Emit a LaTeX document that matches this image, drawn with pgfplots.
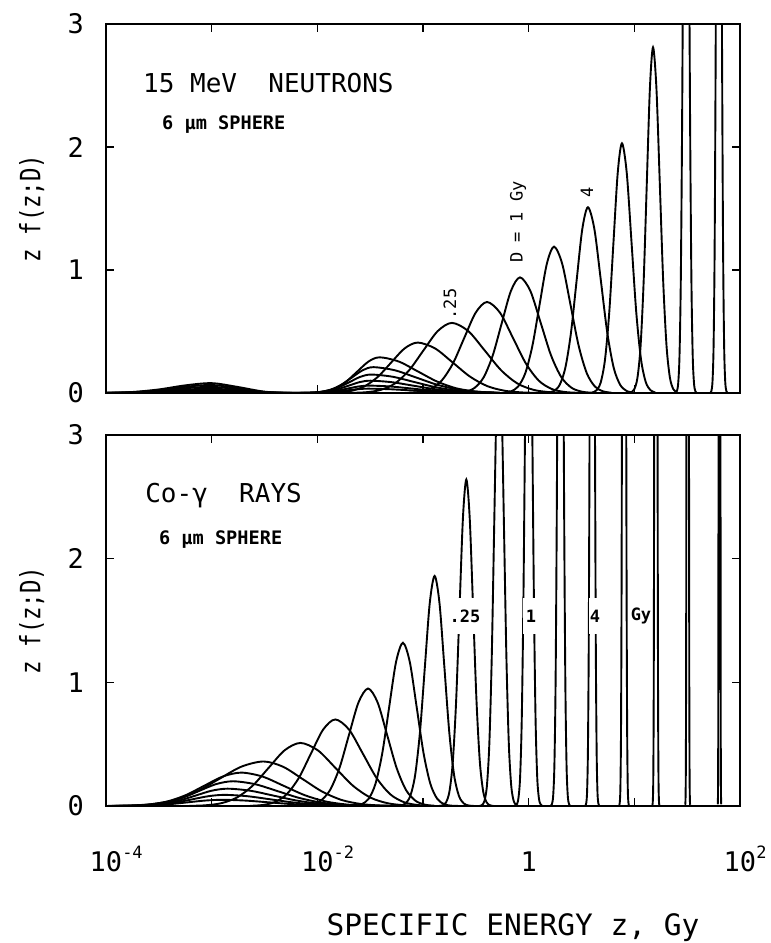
\documentclass[border=0pt]{standalone}
\usepackage{fontspec}
\setmainfont{DejaVu Sans Mono}
\usepackage{graphicx}
\usepackage{pgfplots}
\pgfplotsset{compat=1.18}
\newcommand\fs[1]{\fontsize{#1}{#1}\selectfont}
\newcommand\tl[1]{\makebox[0pt][c]{10\rlap{\raisebox{0.5em}{\fs{17}#1}}}}
\pgfplotsset{
  panel/.style={
    scale only axis, width=634pt, xmin=-4, xmax=2, ymin=0, ymax=3,
    xtick={-4,-3,-2,-1,0,1,2}, ytick={0,1,2,3}, yticklabels={0,1,2,3},
    tick align=inside, major tick length=8pt,
    axis line style={line width=2.2pt},
    every tick/.append style={black, line width=1.6pt},
    tick label style={font=\fs{27}},
    yticklabel style={anchor=east, inner sep=0pt, xshift=-22pt},
    clip mode=individual,
    cycle list={{black}},
    every axis plot post/.append style={black, solid, line width=1.9pt, smooth, mark=none},
  },
}
\begin{document}
\begin{tikzpicture}
\useasboundingbox (0,0) rectangle (771pt,943pt);
% ---------------- top panel: 15 MeV neutrons ----------------
\begin{axis}[panel, at={(106pt,550pt)}, anchor=south west, height=369pt, xticklabels={}]
% D = 1/512
\addplot coordinates {(-4,0.0003)(-3.75,0.0015)(-3.5,0.0054)(-3.25,0.0116)(-3,0.015)(-2.75,0.0091)(-2.5,0.002)(-2.25,0.0002)
(-2.12,0.0004)(-2.02,0.0015)(-1.92,0.0047)(-1.82,0.0114)(-1.72,0.0212)(-1.62,0.0309)(-1.52,0.035)(-1.32,0.0309)(-1.12,0.0212)(-0.92,0.0114)(-0.72,0.0047)(-0.52,0.0015)(-0.32,0.0004)};
% D = 1/256
\addplot coordinates {(-4,0.0004)(-3.75,0.0025)(-3.5,0.009)(-3.25,0.0194)(-3,0.025)(-2.75,0.0152)(-2.5,0.0034)(-2.25,0.0003)
(-2.11,0.0007)(-2.01,0.0026)(-1.91,0.0081)(-1.81,0.0195)(-1.71,0.0364)(-1.61,0.053)(-1.51,0.06)(-1.31,0.053)(-1.11,0.0364)(-0.91,0.0195)(-0.71,0.0081)(-0.51,0.0026)(-0.31,0.0007)};
% D = 1/128
\addplot coordinates {(-4,0.0006)(-3.75,0.0035)(-3.5,0.0126)(-3.25,0.0271)(-3,0.035)(-2.75,0.0212)(-2.5,0.0047)(-2.25,0.0004)
(-2.10,0.0011)(-2.00,0.0044)(-1.90,0.0135)(-1.80,0.0325)(-1.70,0.0607)(-1.60,0.0883)(-1.50,0.1)(-1.30,0.0883)(-1.10,0.0607)(-0.90,0.0325)(-0.70,0.0135)(-0.50,0.0044)(-0.30,0.0011)};
% D = 1/64
\addplot coordinates {(-4,0.0009)(-3.75,0.005)(-3.5,0.018)(-3.25,0.0388)(-3,0.05)(-2.75,0.0304)(-2.5,0.0068)(-2.25,0.0006)
(-2.09,0.0017)(-1.99,0.0066)(-1.89,0.0203)(-1.79,0.0488)(-1.69,0.091)(-1.59,0.1325)(-1.49,0.15)(-1.29,0.1325)(-1.09,0.091)(-0.89,0.0488)(-0.69,0.0203)(-0.49,0.0066)(-0.29,0.0017)};
% D = 1/32
\addplot coordinates {(-4,0.0011)(-3.75,0.0065)(-3.5,0.0235)(-3.25,0.0504)(-3,0.065)(-2.75,0.0395)(-2.5,0.0088)(-2.25,0.0007)
(-2.07,0.0023)(-1.97,0.0092)(-1.87,0.0284)(-1.77,0.0683)(-1.67,0.1275)(-1.57,0.1854)(-1.47,0.21)(-1.27,0.1854)(-1.07,0.1275)(-0.87,0.0683)(-0.67,0.0284)(-0.47,0.0092)(-0.27,0.0023)};
% D = 1/16
\addplot coordinates {(-4,0.0014)(-3.75,0.008)(-3.5,0.0289)(-3.25,0.062)(-3,0.08)(-2.75,0.0486)(-2.5,0.0108)(-2.25,0.0009)
(-2.04,0.0032)(-1.935,0.0128)(-1.83,0.0392)(-1.725,0.0943)(-1.62,0.1759)(-1.515,0.2561)(-1.41,0.29)(-1.23,0.2561)(-1.05,0.1759)(-0.87,0.0943)(-0.69,0.0392)(-0.51,0.0128)(-0.33,0.0032)};
% D = 1/8
\addplot coordinates {(-1.925,0.0009)(-1.80,0.0046)(-1.675,0.018)(-1.55,0.0555)(-1.425,0.1331)(-1.30,0.2487)(-1.175,0.3618)(-1.05,0.41)(-0.885,0.3618)(-0.72,0.2487)(-0.555,0.1331)(-0.39,0.0555)(-0.225,0.018)(-0.06,0.0046)(0.105,0.0009)};
% D = 1/4
\addplot coordinates {(-1.671,0.0013)(-1.536,0.0063)(-1.401,0.025)(-1.266,0.0771)(-1.131,0.1851)(-0.996,0.3457)(-0.861,0.503)(-0.726,0.57)(-0.571,0.503)(-0.416,0.3457)(-0.261,0.1851)(-0.106,0.0771)(0.049,0.025)(0.204,0.0063)(0.359,0.0013)};
% D = 1/2
\addplot coordinates {(-1.1465,0.0016)(-1.039,0.0082)(-0.9315,0.0325)(-0.824,0.1001)(-0.7165,0.2403)(-0.609,0.4488)(-0.5015,0.6531)(-0.394,0.74)(-0.2715,0.6531)(-0.149,0.4488)(-0.0265,0.2403)(0.096,0.1001)(0.2185,0.0325)(0.341,0.0082)(0.4635,0.0016)};
% D = 1
\addplot coordinates {(-0.684,0.0021)(-0.598,0.0104)(-0.512,0.0413)(-0.426,0.1272)(-0.34,0.3052)(-0.254,0.5701)(-0.168,0.8296)(-0.082,0.94)(0.016,0.8296)(0.114,0.5701)(0.212,0.3052)(0.31,0.1272)(0.408,0.0413)(0.506,0.0104)(0.604,0.0021)};
% D = 2
\addplot coordinates {(-0.236,0.0026)(-0.168,0.0132)(-0.10,0.0522)(-0.032,0.161)(0.036,0.3864)(0.104,0.7217)(0.172,1.0502)(0.24,1.19)(0.3175,1.0502)(0.395,0.7217)(0.4725,0.3864)(0.55,0.161)(0.6275,0.0522)(0.705,0.0132)(0.7825,0.0026)};
% D = 4
\addplot coordinates {(0.1865,0.0033)(0.24,0.0168)(0.2935,0.0663)(0.347,0.2043)(0.4005,0.4903)(0.454,0.9158)(0.5075,1.3326)(0.561,1.51)(0.622,1.3326)(0.683,0.9158)(0.744,0.4903)(0.805,0.2043)(0.866,0.0663)(0.927,0.0168)(0.988,0.0033)};
% D = 8
\addplot coordinates {(0.603,0.0045)(0.643,0.0225)(0.683,0.0891)(0.723,0.2747)(0.763,0.6591)(0.803,1.2312)(0.843,1.7915)(0.883,2.03)(0.928,1.7915)(0.973,1.2312)(1.018,0.6591)(1.063,0.2747)(1.108,0.0891)(1.153,0.0225)(1.198,0.0045)};
% D = 16
\addplot coordinates {(0.9705,0.0062)(1.0,0.0312)(1.0295,0.1234)(1.059,0.3802)(1.0885,0.9124)(1.118,1.7043)(1.1475,2.4798)(1.177,2.81)(1.209,2.4798)(1.241,1.7043)(1.273,0.9124)(1.305,0.3802)(1.337,0.1234)(1.369,0.0312)(1.401,0.0062)};
% D = 32
\addplot coordinates {(1.39,0.0023)(1.4025,0.0152)(1.415,0.0766)(1.4275,0.3029)(1.44,0.9336)(1.4525,2.2404)(1.465,4.1849)(1.4775,6.0893)(1.49,6.9)(1.5025,6.0893)(1.515,4.1849)(1.5275,2.2404)(1.54,0.9336)(1.5525,0.3029)(1.565,0.0766)(1.5775,0.0152)(1.59,0.0023)};
% D = 64
\addplot coordinates {(1.72,0.0029)(1.73,0.0191)(1.74,0.0966)(1.75,0.3819)(1.76,1.1771)(1.77,2.8249)(1.78,5.2766)(1.79,7.6778)(1.80,8.7)(1.81,7.6778)(1.82,5.2766)(1.83,2.8249)(1.84,1.1771)(1.85,0.3819)(1.86,0.0966)(1.87,0.0191)(1.88,0.0029)};
\node[font=\fs{26}, anchor=base west, inner sep=0pt] at (axis cs:-3.65,2.447) {15 MeV\ \ NEUTRONS};
\node[font={\fs{18.6}\bfseries}, anchor=base west, inner sep=0pt] at (axis cs:-3.47,2.142) {6 µm SPHERE};
\node[font=\fs{17}, rotate=90] at (axis cs:-0.745,0.724) {.25};
\node[font=\fs{17}, rotate=90] at (axis cs:-0.101,1.39) {D = 1 Gy};
\node[font=\fs{17}, rotate=90] at (axis cs:0.552,1.634) {4};
\node[font=\fs{28}, rotate=90, inner sep=0pt] at (axis description cs:-0.117,0.5) {\scalebox{0.8}[1]{z f(z;D)}};
\end{axis}
% ---------------- bottom panel: Co-60 gamma rays ----------------
\begin{axis}[panel, at={(106pt,137pt)}, anchor=south west, height=371pt,
  xticklabels={\tl{-4},,\tl{-2},,\makebox[0pt][c]{1},,\tl{2}},
  xticklabel style={anchor=base, inner sep=0pt, yshift=-66pt}]
% D = 1/8192
\addplot coordinates {(-4,0.0002)(-3.86,0.0006)(-3.70,0.0022)(-3.54,0.0068)(-3.38,0.0162)(-3.22,0.0303)(-3.06,0.0441)(-2.9,0.05)(-2.685,0.0441)(-2.47,0.0303)(-2.255,0.0162)(-2.04,0.0068)(-1.825,0.0022)(-1.61,0.0006)};
% D = 1/4096
\addplot coordinates {(-3.93,0.0002)(-3.78,0.001)(-3.63,0.004)(-3.48,0.0122)(-3.33,0.0292)(-3.18,0.0546)(-3.03,0.0794)(-2.88,0.09)(-2.665,0.0794)(-2.45,0.0546)(-2.235,0.0292)(-2.02,0.0122)(-1.805,0.004)(-1.59,0.001)(-1.375,0.0002)};
% D = 1/2048
\addplot coordinates {(-3.90,0.0003)(-3.75,0.0016)(-3.60,0.0061)(-3.45,0.0189)(-3.30,0.0455)(-3.15,0.0849)(-3.00,0.1236)(-2.85,0.14)(-2.635,0.1236)(-2.42,0.0849)(-2.205,0.0455)(-1.99,0.0189)(-1.775,0.0061)(-1.56,0.0016)(-1.345,0.0003)};
% D = 1/1024
\addplot coordinates {(-3.92,0.0004)(-3.76,0.0022)(-3.60,0.0088)(-3.44,0.0271)(-3.28,0.0649)(-3.12,0.1213)(-2.96,0.1765)(-2.80,0.20)(-2.59,0.1765)(-2.38,0.1213)(-2.17,0.0649)(-1.96,0.0271)(-1.75,0.0088)(-1.54,0.0022)(-1.33,0.0004)};
% D = 1/512
\addplot coordinates {(-3.945,0.0006)(-3.77,0.003)(-3.595,0.0119)(-3.42,0.0365)(-3.245,0.0877)(-3.07,0.1638)(-2.895,0.2383)(-2.72,0.27)(-2.52,0.2383)(-2.32,0.1638)(-2.12,0.0877)(-1.92,0.0365)(-1.72,0.0119)(-1.52,0.003)(-1.32,0.0006)};
% D = 1/256
\addplot coordinates {(-3.98,0.0008)(-3.77,0.004)(-3.56,0.0158)(-3.35,0.0487)(-3.14,0.1169)(-2.93,0.2183)(-2.72,0.3177)(-2.51,0.36)(-2.325,0.3177)(-2.14,0.2183)(-1.955,0.1169)(-1.77,0.0487)(-1.585,0.0158)(-1.40,0.004)(-1.215,0.0008)};
% D = 1/128
\addplot coordinates {(-3.21,0.0011)(-3.06,0.0057)(-2.91,0.0224)(-2.76,0.069)(-2.61,0.1656)(-2.46,0.3093)(-2.31,0.4501)(-2.16,0.51)(-1.995,0.4501)(-1.83,0.3093)(-1.665,0.1656)(-1.50,0.069)(-1.335,0.0224)(-1.17,0.0057)(-1.005,0.0011)};
% D = 1/64
\addplot coordinates {(-2.635,0.0015)(-2.52,0.0078)(-2.405,0.0307)(-2.29,0.0947)(-2.175,0.2273)(-2.06,0.4246)(-1.945,0.6178)(-1.83,0.70)(-1.70,0.6178)(-1.57,0.4246)(-1.44,0.2273)(-1.31,0.0947)(-1.18,0.0307)(-1.05,0.0078)(-0.92,0.0015)};
% D = 1/32
\addplot coordinates {(-2.15,0.0021)(-2.06,0.0105)(-1.97,0.0417)(-1.88,0.1285)(-1.79,0.3085)(-1.70,0.5762)(-1.61,0.8384)(-1.52,0.95)(-1.43,0.8384)(-1.34,0.5762)(-1.25,0.3085)(-1.16,0.1285)(-1.07,0.0417)(-0.98,0.0105)(-0.89,0.0021)};
% D = 1/16
\addplot coordinates {(-1.71,0.0004)(-1.645,0.0029)(-1.58,0.0147)(-1.515,0.0579)(-1.45,0.1786)(-1.385,0.4286)(-1.32,0.8006)(-1.255,1.1649)(-1.19,1.32)(-1.125,1.1649)(-1.06,0.8006)(-0.995,0.4286)(-0.93,0.1786)(-0.865,0.0579)(-0.80,0.0147)(-0.735,0.0029)(-0.67,0.0004)};
% D = 1/8
\addplot coordinates {(-1.258,0.0006)(-1.212,0.0041)(-1.166,0.0206)(-1.12,0.0817)(-1.074,0.2517)(-1.028,0.6039)(-0.982,1.1281)(-0.936,1.6415)(-0.89,1.86)(-0.844,1.6415)(-0.798,1.1281)(-0.752,0.6039)(-0.706,0.2517)(-0.66,0.0817)(-0.614,0.0206)(-0.568,0.0041)(-0.522,0.0006)};
% D = 1/4
\addplot coordinates {(-0.846,0.0009)(-0.814,0.0058)(-0.782,0.0293)(-0.75,0.1159)(-0.718,0.3572)(-0.686,0.8572)(-0.654,1.6012)(-0.622,2.3298)(-0.59,2.64)(-0.558,2.3298)(-0.526,1.6012)(-0.494,0.8572)(-0.462,0.3572)(-0.43,0.1159)(-0.398,0.0293)(-0.366,0.0058)(-0.334,0.0009)};
% D = 1/2
\addplot coordinates {(-0.464,0.0013)(-0.441,0.0083)(-0.418,0.0416)(-0.395,0.1646)(-0.372,0.5074)(-0.349,1.2176)(-0.326,2.2744)(-0.303,3.3094)(-0.28,3.75)(-0.257,3.3094)(-0.234,2.2744)(-0.211,1.2176)(-0.188,0.5074)(-0.165,0.1646)(-0.142,0.0416)(-0.119,0.0083)(-0.096,0.0013)};
% D = 1
\addplot coordinates {(-0.13,0.0018)(-0.114,0.0117)(-0.0975,0.0588)(-0.081,0.2327)(-0.065,0.7171)(-0.049,1.7209)(-0.0325,3.2145)(-0.016,4.6773)(0,5.3)(0.016,4.6773)(0.0325,3.2145)(0.049,1.7209)(0.065,0.7171)(0.081,0.2327)(0.0975,0.0588)(0.114,0.0117)(0.13,0.0018)};
% D = 2
\addplot coordinates {(0.209,0.0025)(0.2205,0.0165)(0.232,0.0833)(0.2435,0.3293)(0.255,1.0148)(0.2665,2.4353)(0.278,4.5488)(0.2895,6.6188)(0.301,7.5)(0.3125,6.6188)(0.324,4.5488)(0.3355,2.4353)(0.347,1.0148)(0.3585,0.3293)(0.370,0.0833)(0.3815,0.0165)(0.393,0.0025)};
% D = 4
\addplot coordinates {(0.5368,0.0036)(0.545,0.0233)(0.553,0.1177)(0.561,0.4653)(0.5694,1.4342)(0.5776,3.4418)(0.5857,6.4289)(0.5939,9.3545)(0.602,10.6)(0.6102,9.3545)(0.6183,6.4289)(0.6264,3.4418)(0.6346,1.4342)(0.643,0.4653)(0.651,0.1177)(0.659,0.0233)(0.6672,0.0036)};
% D = 8
\addplot coordinates {(0.857,0.005)(0.8628,0.033)(0.8685,0.1665)(0.8743,0.6585)(0.88,2.0295)(0.8858,4.8705)(0.8915,9.0975)(0.8973,13.2375)(0.903,15)(0.9088,13.2375)(0.9145,9.0975)(0.9203,4.8705)(0.926,2.0295)(0.9318,0.6585)(0.9375,0.1665)(0.9433,0.033)(0.949,0.005)};
% D = 16
\addplot coordinates {(1.1712,0.007)(1.1753,0.0462)(1.1794,0.2331)(1.1835,0.9219)(1.1876,2.8413)(1.1917,6.8187)(1.204,21)(1.2163,6.8187)(1.2204,2.8413)(1.2245,0.9219)(1.2286,0.2331)(1.2327,0.0462)(1.2368,0.007)};
% D = 32
\addplot coordinates {(1.4818,0.01)(1.4847,0.066)(1.4876,0.333)(1.4905,1.317)(1.4934,4.059)(1.4963,9.741)(1.505,30)(1.5137,9.741)(1.5166,4.059)(1.5195,1.317)(1.5224,0.333)(1.5253,0.066)(1.5282,0.01)};
% D = 64
\addplot coordinates {(1.7896,0.014)(1.7917,0.0924)(1.7937,0.4662)(1.7958,1.8438)(1.7978,5.6826)(1.7999,13.64)(1.806,42)(1.8122,13.64)(1.8142,5.6826)(1.8163,1.8438)(1.8183,0.4662)(1.8204,0.0924)(1.8224,0.014)};
\node[font=\fs{26}, anchor=base west, inner sep=0pt] at (axis cs:-3.63,2.458) {Co-γ\ \ RAYS};
\node[font={\fs{18.6}\bfseries}, anchor=base west, inner sep=0pt] at (axis cs:-3.5,2.115) {6 µm SPHERE};
\node[font={\fs{17}\bfseries}, fill=white, inner xsep=1pt, inner ysep=12pt] at (axis cs:-0.603,1.536) {.25};
\node[font={\fs{17}\bfseries}, fill=white, inner xsep=3pt, inner ysep=12pt] at (axis cs:0.022,1.536) {1};
\node[font={\fs{17}\bfseries}, fill=white, inner xsep=1pt, inner ysep=12pt] at (axis cs:0.628,1.536) {4};
\node[font={\fs{17}\bfseries}] at (axis cs:1.063,1.536) {Gy};
\node[font=\fs{28}, rotate=90, inner sep=0pt] at (axis description cs:-0.117,0.5) {\scalebox{0.8}[1]{z f(z;D)}};
\node[font=\fs{29.5}, anchor=base, inner sep=0pt] at (axis description cs:0.642,-0.35) {SPECIFIC ENERGY z, Gy};
\end{axis}
\end{tikzpicture}
\end{document}
